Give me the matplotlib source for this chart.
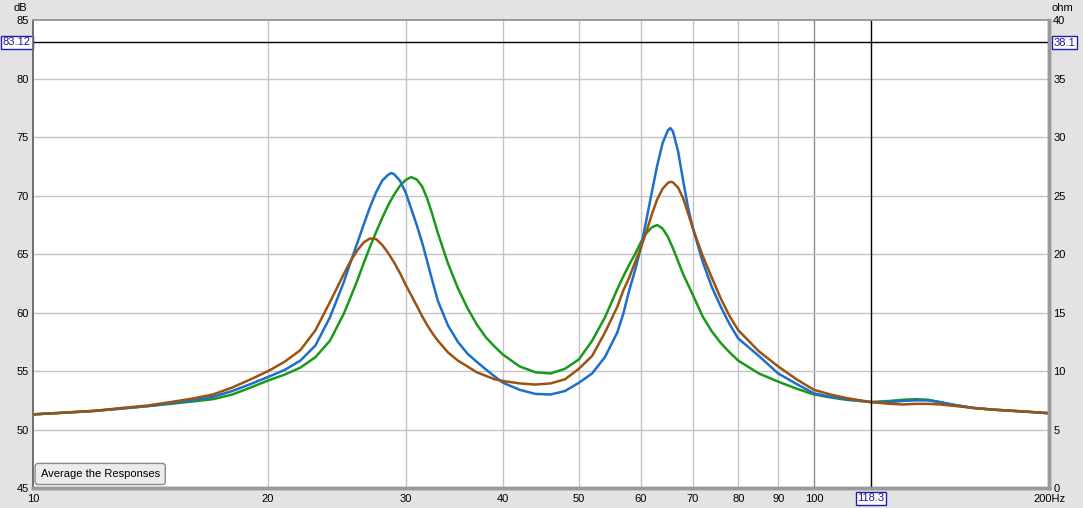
import matplotlib
matplotlib.use('Agg')
import matplotlib.pyplot as plt

plt.rcParams['font.family'] = ['Liberation Sans', 'DejaVu Sans']

# Frequencies (Hz) and SPL readings (dB) for the three measurements
freq = [10, 11, 12, 13, 14, 15, 16, 17, 18, 19, 20, 21, 22, 23, 24, 25, 25.5, 26, 26.5,
        27, 27.5, 28, 28.5, 28.75, 29, 29.5, 30, 30.5, 31, 31.5, 32, 32.5, 33, 34, 35, 36, 37,
        38, 39, 40, 42, 44, 46, 48, 50, 52, 54, 56, 57, 58, 59, 60, 61, 62, 63, 64, 65,
        65.5, 66, 67, 68, 69, 70, 72, 74, 76, 78, 80, 85, 90, 95, 100, 105, 110, 118.3,
        125, 130, 135, 140, 145, 150, 160, 170, 185, 200]

blue = [51.3, 51.45, 51.6, 51.8, 52.0, 52.25, 52.5, 52.8, 53.3, 53.9, 54.5, 55.1, 55.9, 57.2,
        59.6, 62.6, 64.3, 65.9, 67.5, 69.0, 70.3, 71.3, 71.8, 71.95, 71.85, 71.3, 70.3, 68.9, 67.5,
        66.0, 64.3, 62.6, 61.0, 58.9, 57.5, 56.5, 55.8, 55.15, 54.55, 54.0, 53.4, 53.05, 53.0,
        53.3, 54.0, 54.8, 56.2, 58.3, 59.9, 61.9, 63.6, 65.5, 67.9, 70.3, 72.6, 74.5, 75.6,
        75.8, 75.5, 73.8, 71.3, 69.0, 67.2, 64.4, 62.2, 60.5, 59.0, 57.8, 56.3, 54.8, 53.9,
        53.1, 52.8, 52.6, 52.35, 52.35, 52.45, 52.5, 52.5, 52.35, 52.15, 51.85, 51.7, 51.55, 51.4]

brown = [51.3, 51.45, 51.6, 51.85, 52.05, 52.35, 52.65, 53.0, 53.6, 54.3, 55.0, 55.8, 56.8, 58.5,
         60.9, 63.3, 64.4, 65.3, 66.0, 66.35, 66.3, 65.8, 65.1, 64.7, 64.3, 63.4, 62.4, 61.5, 60.6,
         59.7, 58.9, 58.2, 57.6, 56.6, 55.9, 55.4, 54.9, 54.6, 54.3, 54.15, 53.95, 53.85, 53.95,
         54.3, 55.2, 56.3, 58.3, 60.5, 61.9, 63.0, 64.3, 65.5, 66.9, 68.4, 69.7, 70.6, 71.1,
         71.2, 71.15, 70.7, 69.8, 68.5, 67.2, 64.9, 63.0, 61.2, 59.7, 58.5, 56.7, 55.4, 54.3,
         53.4, 53.0, 52.7, 52.35, 52.2, 52.15, 52.2, 52.2, 52.15, 52.05, 51.85, 51.7, 51.55, 51.4]

green = [51.3, 51.45, 51.6, 51.8, 52.0, 52.2, 52.4, 52.6, 53.0, 53.6, 54.2, 54.7, 55.3, 56.2,
         57.6, 59.9, 61.3, 62.7, 64.2, 65.6, 66.9, 68.1, 69.2, 69.65, 70.1, 70.85, 71.35, 71.6, 71.4,
         70.8, 69.7, 68.3, 66.8, 64.2, 62.1, 60.4, 59.0, 57.9, 57.1, 56.4, 55.4, 54.9, 54.8,
         55.2, 56.0, 57.6, 59.6, 62.0, 63.1, 64.1, 65.0, 66.0, 66.8, 67.3, 67.5, 67.2, 66.5,
         66.0, 65.5, 64.4, 63.3, 62.4, 61.5, 59.7, 58.4, 57.4, 56.6, 55.9, 54.8, 54.1, 53.5,
         53.0, 52.75, 52.55, 52.35, 52.45, 52.55, 52.6, 52.55, 52.35, 52.15, 51.85, 51.7, 51.55, 51.4]

x_ticks = [10, 20, 30, 40, 50, 60, 70, 80, 90, 100, 200]
x_labels = ['10', '20', '30', '40', '50', '60', '70', '80', '90', '100', '200Hz']
db_ticks = [45, 50, 55, 60, 65, 70, 75, 80, 85]
ohm_ticks = [0, 5, 10, 15, 20, 25, 30, 35, 40]

cursor_freq = 118.3
cursor_db = 83.12
cursor_ohm = 38.1

fs = 8
bg = '#e3e3e3'
fig = plt.figure(figsize=(10.83, 5.08), dpi=100, facecolor=bg)
ax = fig.add_axes([33 / 1083, 20 / 508, 1016 / 1083, 467.5 / 508])
ax.set_facecolor('white')

ax.set_xscale('log')
ax.set_xlim(10, 200)
ax.set_ylim(45, 85)

# grid
for f in x_ticks[1:-1]:
    ax.axvline(f, color='#8c8c8c' if f == 100 else '#c4c4c4', lw=1, zorder=1)
for d in db_ticks[1:-1]:
    ax.axhline(d, color='#c4c4c4', lw=1, zorder=1)

ax.plot(freq, green, color='#1a9a1a', lw=1.8, zorder=3, solid_joinstyle='round')
ax.plot(freq, blue, color='#1d6fcc', lw=1.8, zorder=4, solid_joinstyle='round')
ax.plot(freq, brown, color='#9c5312', lw=1.8, zorder=5, solid_joinstyle='round')

# cursor lines
ax.axvline(cursor_freq, color='black', lw=1, zorder=6)
ax.axhline(cursor_db, color='black', lw=1, zorder=6)

ax.set_xticks(x_ticks)
ax.set_xticklabels(x_labels)
ax.xaxis.set_minor_locator(matplotlib.ticker.NullLocator())
ax.set_yticks(db_ticks)
ax.tick_params(length=0, labelsize=fs, pad=3)
ax.tick_params(axis='x', pad=4.5)

ax2 = ax.twinx()
ax2.set_ylim(0, 40)
ax2.set_yticks(ohm_ticks)
ax2.tick_params(length=0, labelsize=fs, pad=3)

for a in (ax, ax2):
    for s in a.spines.values():
        s.set_color('#9a9a9a')
        s.set_linewidth(1.2)
    a.spines['right'].set_linewidth(2.5)
    a.spines['bottom'].set_linewidth(2.5)
    a.spines['left'].set_color('#6e6e6e')

fig.text(27 / 1083, 1 - 8 / 508, 'dB', ha='right', va='center', fontsize=fs)
fig.text(1051 / 1083, 1 - 8 / 508, 'ohm', ha='left', va='center', fontsize=fs)

box = dict(boxstyle='square,pad=0.15', fc='white', ec='#2020b0', lw=1)
ax.annotate(f'{cursor_db:.2f}', xy=(0, cursor_db), xycoords=('axes fraction', 'data'),
            xytext=(-1.5, 0), textcoords='offset points', ha='right', va='center',
            fontsize=fs, color='#1a1aa0', bbox=box, zorder=10, annotation_clip=False)
ax2.annotate(f'{cursor_ohm}', xy=(1, cursor_ohm), xycoords=('axes fraction', 'data'),
             xytext=(3, 0), textcoords='offset points', ha='left', va='center',
             fontsize=fs, color='#1a1aa0', bbox=box, zorder=10, annotation_clip=False)
ax.annotate(f'{cursor_freq}', xy=(cursor_freq, 0), xycoords=('data', 'axes fraction'),
            xytext=(0, -7.5), textcoords='offset points', ha='center', va='center',
            fontsize=fs, color='#1a1aa0', bbox=box, zorder=10, annotation_clip=False)

# button
ax.text(0.0075, 0.030, 'Average the Responses',
        transform=ax.transAxes, ha='left', va='center', fontsize=fs, zorder=10,
        bbox=dict(boxstyle='round,pad=0.5,rounding_size=0.3', fc='#ececec', ec='#8a8a8a', lw=1))

fig.savefig('out.png', dpi=100, facecolor=bg)
